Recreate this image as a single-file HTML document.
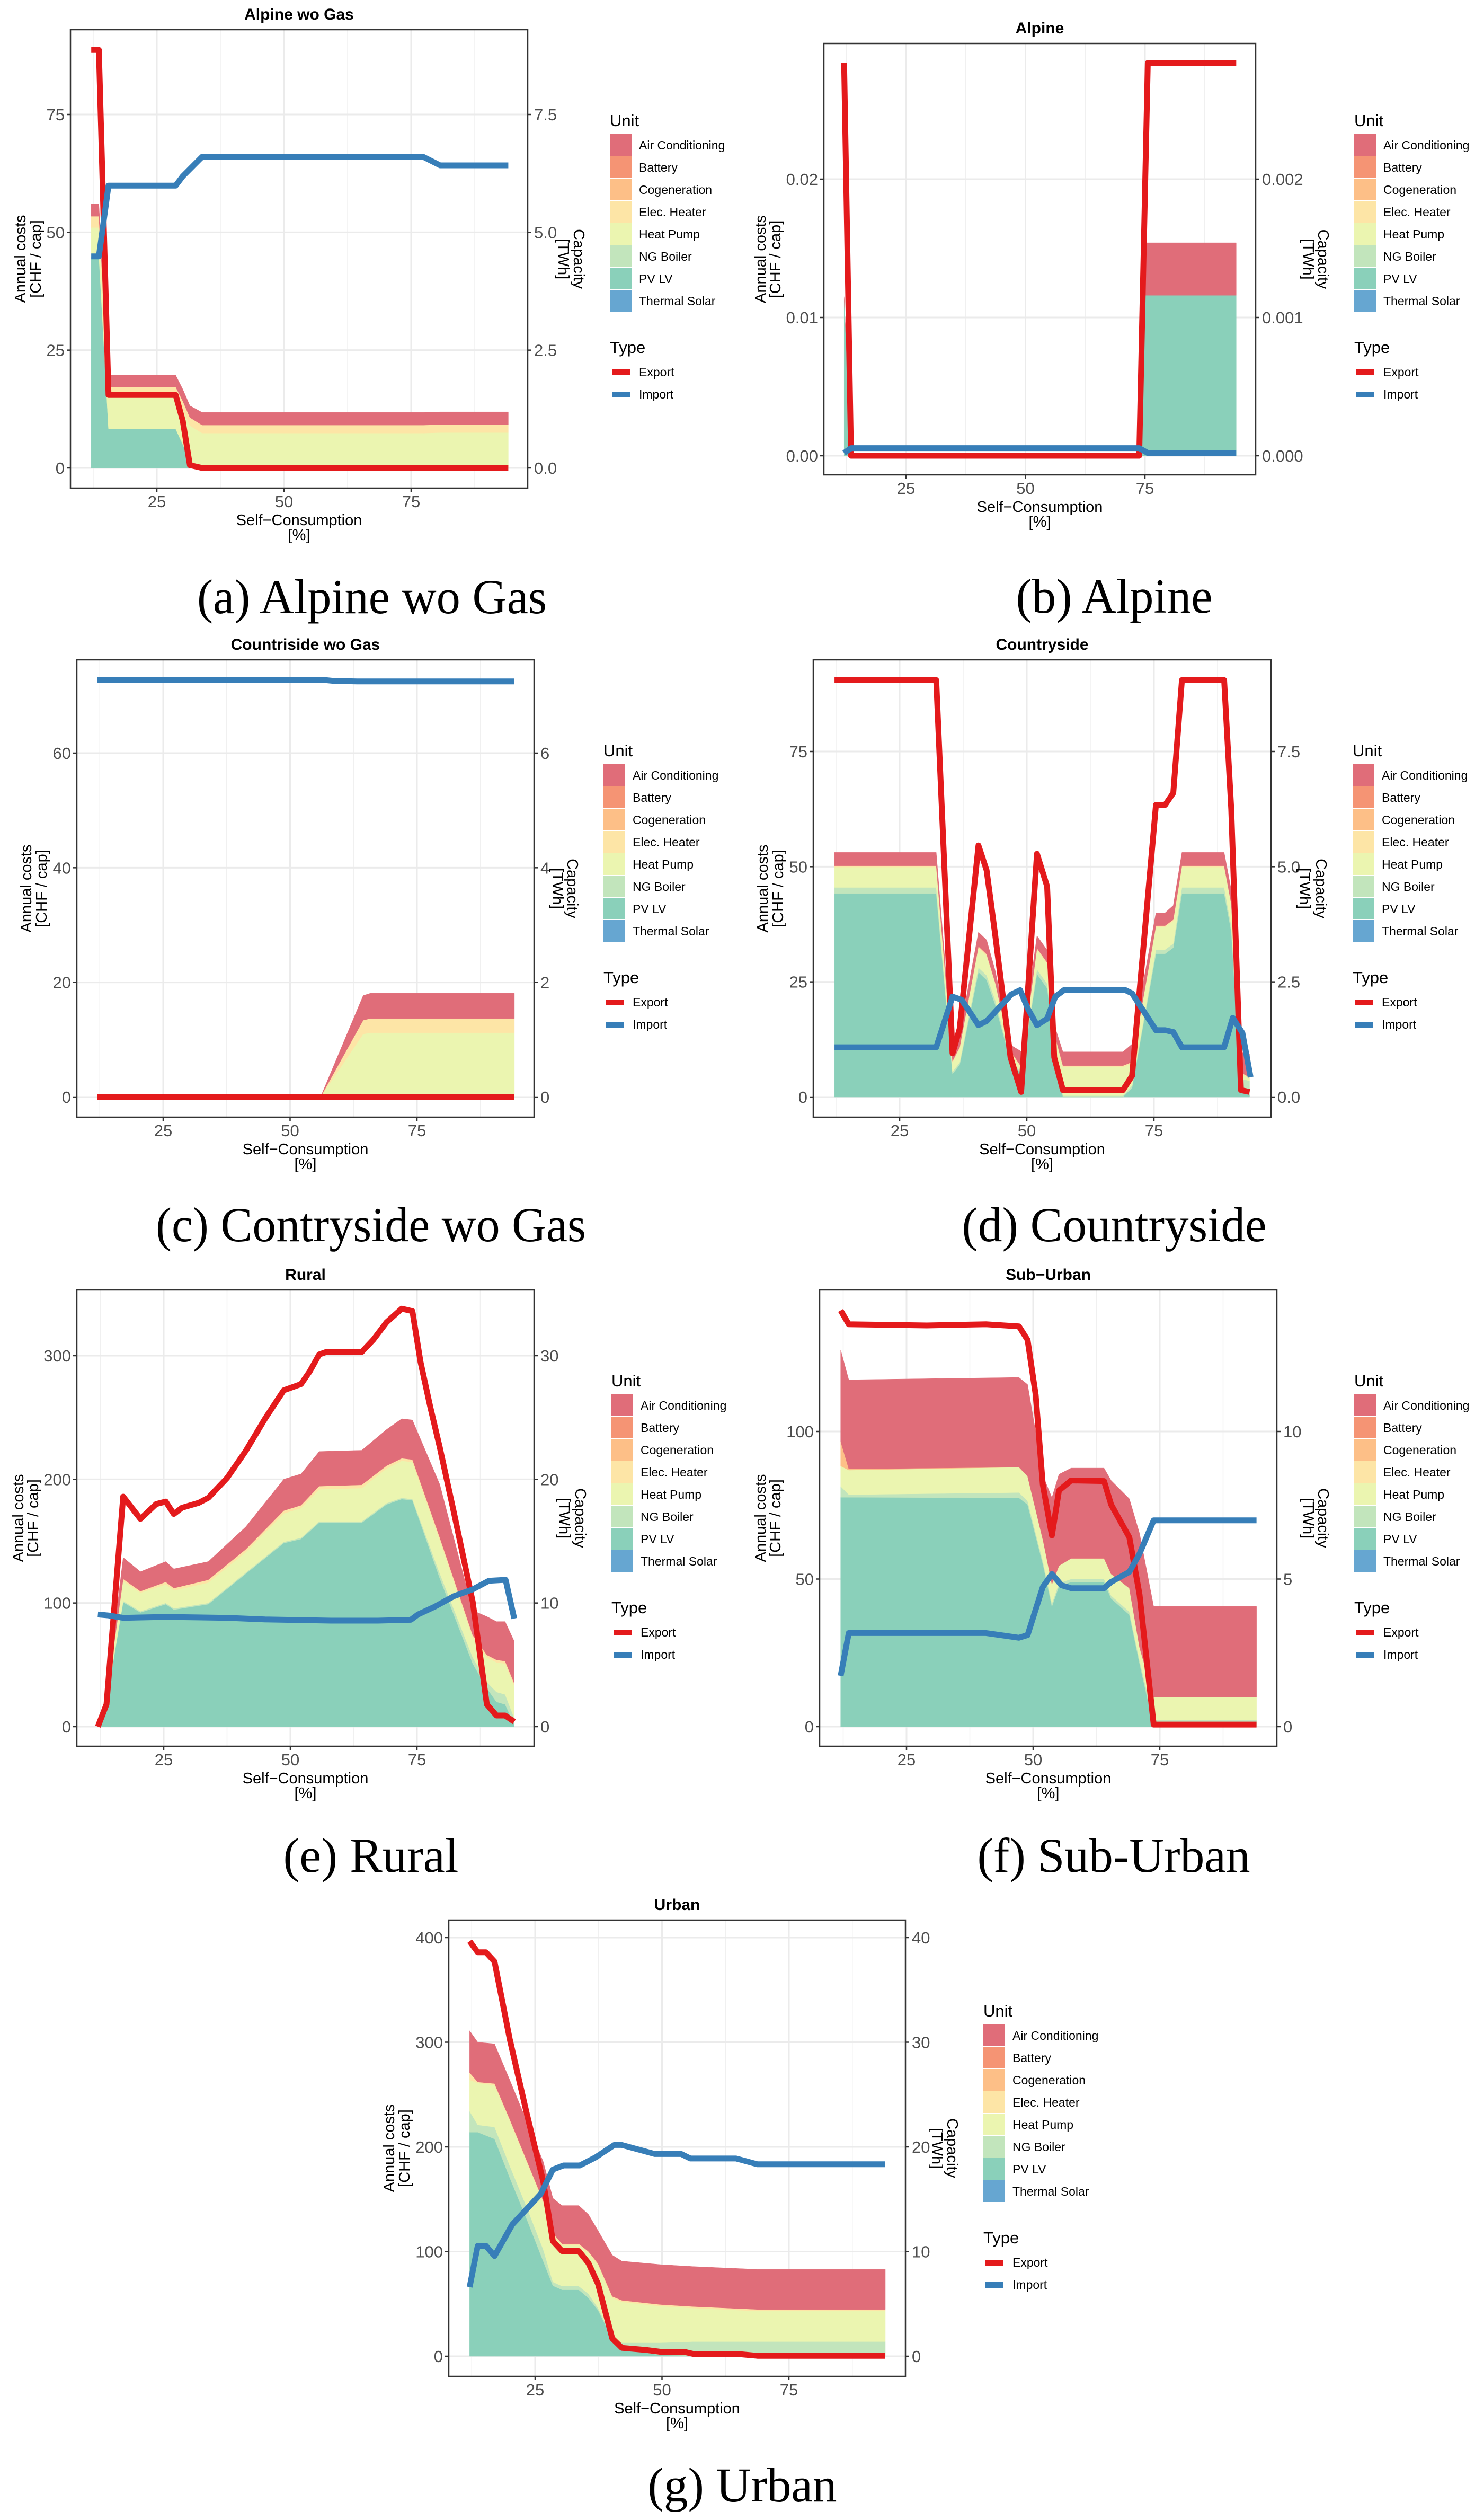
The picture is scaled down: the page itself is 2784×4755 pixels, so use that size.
<!DOCTYPE html>
<html><head><meta charset="utf-8">
<style>
html,body{margin:0;padding:0;background:#fff;}
svg{display:block;font-family:"Liberation Sans",sans-serif;}
</style></head>
<body>
<svg id="fig" xmlns="http://www.w3.org/2000/svg" width="2784" height="4755" viewBox="0 0 2784 4755"></svg>
<script>
// ---------- DATA ----------
// (a) Alpine wo Gas
const aX=[12.1,13.6,15.5,28.7,30.1,31.5,33.9,77.4,80.7,94.1];
const aPV=[44.9,44.9,8.3,8.3,5,1.5,0,0,0,0];
const aNG=[0.5,0.5,0,0,0,0,0,0,0,0];
const aHP=[5.6,5.6,7.2,7.2,7.5,7.5,7.4,7.4,7.5,7.5];
const aEH=[2.4,2.4,1.7,1.7,1.7,1.7,1.7,1.7,1.7,1.7];
const aAC=[2.6,2.6,2.5,2.5,2.5,2.5,2.7,2.7,2.7,2.7];
const aExpX=[12.1,13.6,15.5,28.7,30.1,31.5,33.9,94.1];
const aExp=[88.7,88.7,15.5,15.5,10,0.6,0,0];
const aImpX=[12.1,13.6,15.5,28.7,30.1,33.9,77.4,80.7,94.1];
const aImp=[4.49,4.49,5.99,5.99,6.19,6.6,6.6,6.42,6.42];
const aYTicks=[0,25,50,75];
const aYTickLabels=["0","25","50","75"];
const aRTickLabels=["0.0","2.5","5.0","7.5"];

// (b) Alpine
const bX=[12.05,13.5,73.8,75.0,94.1];
const bPV=[0.0115,0,0,0.0116,0.0116];
const bAC=[0,0,0,0.0038,0.0038];
const bExpX=[12.05,13.5,73.8,75.6,94.1];
const bExp=[0.0284,0,0,0.0284,0.0284];
const bImpX=[12.05,13.5,73.8,75.6,94.1];
const bImp=[0.00002,0.000055,0.000055,0.00002,0.00002];
const bYTicks=[0,0.01,0.02];
const bYTickLabels=["0.00","0.01","0.02"];
const bRTickLabels=["0.000","0.001","0.002"];

// (c) Countriside wo Gas
const cX=[12,56,64.4,65.8,94.2];
const cHP=[0,0,11,11.2,11.2];
const cEH=[0,0,2.4,2.5,2.5];
const cAC=[0,0,4.3,4.4,4.4];
const cExpX=[12,94.2];
const cExp=[0,0];
const cImpX=[12,56.2,58.5,63.2,94.2];
const cImp=[7.28,7.28,7.26,7.25,7.25];
const cYTicks=[0,20,40,60];
const cYTickLabels=["0","20","40","60"];
const cRTickLabels=["0","2","4","6"];

// (d) Countryside
const dX=[12.2,32.2,35.4,36.8,40.5,42.1,43.8,46.8,48.9,52,54,55.4,57.1,68.9,70.7,75.4,77.2,78.8,80.5,88.8,90.2,92.1,93.8];
const dPV=[44.2,44.2,5,7,27.1,25.4,20,7.7,5,26.7,23.6,12.1,0,0,2,31.1,31.1,32.4,44.2,44.2,36,1,0.5];
const dNG=[1.3,1.3,0.5,0.5,1,1,1,0.5,0.3,1,1,0.5,0.3,0.3,0.5,0.9,0.9,0.9,1.3,1.3,1.2,3,3];
const dHP=[4.4,4.4,2,3,4.3,4.3,3.5,1.5,1,4.3,4.3,1,6.2,6.2,4.8,4.9,4.9,4.9,4.4,4.4,4.5,1,0.5];
const dEH=[0.3,0.3,0.3,0.3,0.3,0.3,0.3,0.3,0.3,0.3,0.3,0.3,0.3,0.3,0.3,0.3,0.3,0.3,0.3,0.3,0.3,0.3,0.3];
const dAC=[2.9,2.9,1.5,3,3.1,3.1,2.6,1.3,3.3,2.7,2.7,1.8,3,3,3.9,2.8,2.8,3.1,2.9,2.9,3,4.5,5];
const dExpX=[12.2,32.2,35.4,36.8,40.5,42.1,43.8,46.8,48.9,52,54,55.4,57.1,68.9,70.7,75.4,77.2,78.8,80.5,88.8,90.2,92.1,93.8];
const dExp=[90.5,90.5,9.5,14.8,54.6,49.2,35.1,8.6,1.1,52.8,45.7,8.6,1.5,1.5,4.6,63.4,63.4,66,90.5,90.5,62.5,1.5,1.1];
const dImpX=[12.2,32.2,35.4,37.2,40.5,42.1,47,48.7,50.2,52,54,55.6,57.3,69.4,70.7,75.4,77.2,78.8,80.5,88.8,90.5,92.4,94];
const dImp=[1.08,1.08,2.18,2.11,1.56,1.65,2.23,2.32,1.92,1.56,1.7,2.18,2.32,2.32,2.25,1.45,1.45,1.41,1.08,1.08,1.72,1.39,0.43];
const dYTicks=[0,25,50,75];
const dYTickLabels=["0","25","50","75"];
const dRTickLabels=["0.0","2.5","5.0","7.5"];

// (e) Rural
const eX=[12,13.7,17,20.4,25.4,27,33.8,41.2,48.7,52.1,55.7,64.1,69,72,74.1,79.5,86,88.8,90.7,92.4,94.2];
const ePV=[0,20,100.6,92.3,99,94.6,99,123.6,148.4,151.7,164.9,164.9,179.7,184,183,120,51,31,20,18,2];
const eNG=[0,0,1,1,1,1,1,1,1,1,1,1,1,1,1,4,5,5,8,8,5];
const eHP=[0,3,16,15,15,14.5,16.5,16.5,23,24,26,27,28,30,30,27,16,20,24,25,26];
const eEH=[0,0,1.8,1.2,2,1.9,2.2,2.3,2.3,2.3,2.6,2.6,2.3,2,2,2,2,2,2,2,2];
const eAC=[0,2,17.4,15.8,16.5,15.6,14.8,18.2,25.4,25.4,28,28,29.3,32,32,43,20,31,31,32,34];
const eExpX=[12,13.7,17,20.4,23.5,25.4,27,28.6,31.9,33.8,37.5,41.2,45,48.7,52.1,53.8,55.7,57.1,64.1,66.4,69,72,74.1,75.7,77.6,79.5,82.3,86,88.8,90.7,92.4,94.2];
const eExp=[0,18,186,168,180,182,172,177,181,185,201,223,249,272,277,287,301,303,303,313,327,338,336,295,259,226,173,101,18,9,9,4];
const eImpX=[12,14.1,17,25.4,37.5,45,58,67.3,73.8,75.2,78.5,82.3,86,89.2,92.5,94.2];
const eImp=[9.07,8.99,8.8,8.87,8.8,8.67,8.57,8.57,8.64,9.07,9.7,10.55,11.1,11.8,11.87,8.74];
const eYTicks=[0,100,200,300];
const eYTickLabels=["0","100","200","300"];
const eRTickLabels=["0","10","20","30"];

// (f) Sub-Urban
const fX=[12,13.6,47.2,48.9,52,53.7,55.1,57.5,64,65.4,69,71,73.8,94.1];
const fPV=[77.7,77.7,77.5,75.2,54.5,40.7,47.6,49,49,43.4,37.9,21.4,0,0];
const fNG=[3.7,0.9,1.8,1.2,1,1,1,1,1,1,1,1,2.3,2.3];
const fHP=[6.9,8.3,8.6,8.4,7.3,6.6,5.9,7,7,7.3,8,4.5,7.7,7.7];
const fCOG=[8.3,0.4,0,0,0,0,0,0,0,0,0,0,0,0];
const fAC=[31,30.2,30.4,31.1,22,29.3,31,30.6,30.6,31.7,30.3,38.6,30.7,30.7];
const fExpX=[12,13.6,29,40.7,47.2,48.9,50.5,51.9,53.7,55.1,57.5,64,65.4,69,71,73.8,94.1];
const fExp=[141,136.3,135.9,136.3,135.6,131,112.4,82,64.8,80,83.4,83.2,75.2,64.1,44.8,0.7,0.7];
const fImpX=[12,13.6,40.7,47.2,48.9,51.9,53.7,55.6,57.5,64,65.4,69,71,73.8,94.1];
const fImp=[1.72,3.17,3.17,3.01,3.1,4.73,5.17,4.79,4.69,4.69,4.9,5.24,5.86,6.99,6.99];
const fYTicks=[0,50,100];
const fYTickLabels=["0","50","100"];
const fRTickLabels=["0","5","10"];

// (g) Urban
const gX=[12.1,13.7,17,20,23.3,26.6,28.5,30.3,33.6,35.5,37.4,40.2,42.1,49.6,56.1,68.8,94];
const gPV=[214,214,207.6,170.6,131.6,90.8,67.4,63.5,63.5,55.7,44,16.7,7,1.2,0.5,0.3,0.3];
const gNG=[20,7,11.4,11.4,11.4,11.2,3.6,3.5,3.5,3.9,2,2,5.9,11.7,13.5,13.7,13.7];
const gHP=[30,40,40,43,43,45,45,39,39,39,41,37,39,35,32,29.2,29.2];
const gEH=[7,1,1.5,1.5,1.5,1.5,1.5,1.5,1.5,1.5,1.5,1.5,1.5,1.5,1.5,1.5,1.5];
const gAC=[40,38,38,37.5,37.5,37.5,33.5,36.5,36.5,35.5,31.5,39.4,37.5,38.2,38.2,38.3,38.3];
const gExpX=[12.1,13.7,15.3,17,20,23.3,26.6,28.5,30.3,33.6,35.5,37.4,40.2,42.1,46.8,49.6,54.3,56.1,64.6,68.8,94];
const gExp=[396.5,386,386,377,303,233,167,110,100.5,100.5,89,69,17,8,6,4.3,4.3,2.3,2.3,0.4,0.4];
const gImpX=[12.1,13.7,15.3,17,20.5,26.1,28.5,30.6,33.8,36.9,40.6,42.1,48.6,53.8,55.6,64.6,68.8,94];
const gImp=[6.6,10.55,10.55,9.58,12.58,15.5,17.84,18.23,18.23,19,20.18,20.18,19.32,19.32,18.89,18.89,18.34,18.34];
const gYTicks=[0,100,200,300,400];
const gYTickLabels=["0","100","200","300","400"];
const gRTickLabels=["0","10","20","30","40"];

const legendUnits=["Air Conditioning","Battery","Cogeneration","Elec. Heater","Heat Pump","NG Boiler","PV LV","Thermal Solar"];
const legendTypes=["Export","Import"];

// ---------- RENDERING ----------
const NS="http://www.w3.org/2000/svg";
const svg=document.getElementById('fig');
const COL={ts:"#66a6d1",pv:"#8ad0ba",ng:"#c2e5bc",hp:"#ebf5b0",eh:"#fde5a6",cog:"#fdbf87",bat:"#f59474",ac:"#e06d79"};
const unitColors=[COL.ac,COL.bat,COL.cog,COL.eh,COL.hp,COL.ng,COL.pv,COL.ts];
const EXP="#e41a1c",IMP="#377eb8";
function mk(tag,attrs,parent){const e=document.createElementNS(NS,tag);for(const k in attrs)e.setAttribute(k,attrs[k]);(parent||svg).appendChild(e);return e;}
function lin(d0,d1,p0,p1){return v=>p0+(v-d0)*(p1-p0)/(d1-d0);}
function zeros(n){return new Array(n).fill(0);}

function drawPanel(P){
  const g=mk('g',{});
  
  
  const [fx0,fx1,fy0,fy1]=P.frame;
  const xs=lin(25,75,P.x25,P.x75);
  const ys=lin(P.yT[0],P.yT[P.yT.length-1],P.yp0,P.yp1);
  const step=P.yT[1]-P.yT[0];
  for(let v=P.yT[0]-step*1.5; v<=P.yT[P.yT.length-1]+step*1.5; v+=step){
    const yy=ys(v+step/2);
    if(yy>fy0&&yy<fy1){const l=mk('line',{x1:fx0,x2:fx1,y1:yy,y2:yy,stroke:'#f0f0f0','stroke-width':1.5},g);
      
      }
  }
  [12.5,37.5,62.5,87.5].forEach(v=>{const xx=xs(v);if(xx>fx0&&xx<fx1){const l=mk('line',{x1:xx,x2:xx,y1:fy0,y2:fy1,stroke:'#f0f0f0','stroke-width':1.5},g);
    
    }});
  P.yT.forEach(v=>{const yy=ys(v);const l=mk('line',{x1:fx0,x2:fx1,y1:yy,y2:yy,stroke:'#ebebeb','stroke-width':3},g);
    
    });
  [25,50,75].forEach(v=>{const xx=xs(v);const l=mk('line',{x1:xx,x2:xx,y1:fy0,y2:fy1,stroke:'#ebebeb','stroke-width':3},g);
    
    });
  const n=P.x.length;
  const layers=[['thermal-solar',P.ts||zeros(n),COL.ts],['pv-lv',P.pv||zeros(n),COL.pv],['ng-boiler',P.ng||zeros(n),COL.ng],['heat-pump',P.hp||zeros(n),COL.hp],['elec-heater',P.eh||zeros(n),COL.eh],['cogeneration',P.cog||zeros(n),COL.cog],['battery',P.bat||zeros(n),COL.bat],['air-conditioning',P.ac||zeros(n),COL.ac]];
  let base=zeros(n);
  layers.forEach(([nm,vals,c])=>{
    const top=base.map((b,i)=>b+vals[i]);
    if(vals.some(v=>v>0)){
      let pts=P.x.map((x,i)=>xs(x).toFixed(1)+','+ys(top[i]).toFixed(1));
      for(let i=n-1;i>=0;i--)pts.push(xs(P.x[i]).toFixed(1)+','+ys(base[i]).toFixed(1));
      const pg=mk('polygon',{points:pts.join(' '),fill:c,stroke:c,'stroke-width':0.5},g);
      
      
    }
    base=top;
  });
  const ep=P.expX.map((x,i)=>xs(x).toFixed(1)+','+ys(P.exp[i]).toFixed(1)).join(' ');
  const el=mk('polyline',{points:ep,fill:'none',stroke:EXP,'stroke-width':11,'stroke-linejoin':'round'},g);
  
  
  const ip=P.impX.map((x,i)=>xs(x).toFixed(1)+','+ys(P.imp[i]*10).toFixed(1)).join(' ');
  const il=mk('polyline',{points:ip,fill:'none',stroke:IMP,'stroke-width':11,'stroke-linejoin':'round'},g);
  
  
  const fr=mk('rect',{x:fx0,y:fy0,width:fx1-fx0,height:fy1-fy0,fill:'none',stroke:'#333','stroke-width':2.5},g);
  
  
  P.yT.forEach((v,i)=>{
    const yy=ys(v);
    mk('line',{x1:fx0-7,x2:fx0,y1:yy,y2:yy,stroke:'#333','stroke-width':2.5},g);
    mk('line',{x1:fx1,x2:fx1+7,y1:yy,y2:yy,stroke:'#333','stroke-width':2.5},g);
    const t=mk('text',{x:fx0-11,y:yy+11,'text-anchor':'end','font-size':31,fill:'#4d4d4d'},g);
    t.textContent=P.yL[i];
    
    
    const r=mk('text',{x:fx1+12,y:yy+11,'text-anchor':'start','font-size':31,fill:'#4d4d4d'},g);
    r.textContent=P.rL[i];
    
    
  });
  [25,50,75].forEach(v=>{
    const xx=xs(v);
    mk('line',{x1:xx,x2:xx,y1:fy1,y2:fy1+7,stroke:'#333','stroke-width':2.5},g);
    const t=mk('text',{x:xx,y:fy1+36,'text-anchor':'middle','font-size':31,fill:'#4d4d4d'},g);
    t.textContent=String(v);
    
    
  });
  const cx=(fx0+fx1)/2, cy=(fy0+fy1)/2;
  const tt=mk('text',{x:cx,y:fy0-19,'text-anchor':'middle','font-size':30,'font-weight':'bold',fill:'#000'},g);
  tt.textContent=P.title;
  
  
  const xt1=mk('text',{x:cx,y:fy1+70,'text-anchor':'middle','font-size':29,fill:'#000'},g);
  xt1.textContent='Self\u2212Consumption';
  
  
  const xt2=mk('text',{x:cx,y:fy1+98,'text-anchor':'middle','font-size':29,fill:'#000'},g);
  xt2.textContent='[%]';
  
  
  const yl1=mk('text',{x:0,y:0,'text-anchor':'middle','font-size':29,fill:'#000',transform:`translate(${fx0+P.yl[0]+10},${cy}) rotate(-90)`},g);
  yl1.textContent='Annual costs';
  
  
  const yl2=mk('text',{x:0,y:0,'text-anchor':'middle','font-size':29,fill:'#000',transform:`translate(${fx0+P.yl[1]+10},${cy}) rotate(-90)`},g);
  yl2.textContent='[CHF / cap]';
  
  
  const yr1=mk('text',{x:0,y:0,'text-anchor':'middle','font-size':29,fill:'#000',transform:`translate(${fx1+P.yr[1]-10},${cy}) rotate(90)`},g);
  yr1.textContent='Capacity';
  
  
  const yr2=mk('text',{x:0,y:0,'text-anchor':'middle','font-size':29,fill:'#000',transform:`translate(${fx1+P.yr[0]-10},${cy}) rotate(90)`},g);
  yr2.textContent='[TWh]';
  
  
  const lx=P.legX, ly=(P.legY!==undefined?P.legY:fy0);
  const ut=mk('text',{x:lx,y:ly+182,'font-size':31,fill:'#000'},g);
  ut.textContent='Unit';
  
  
  legendUnits.forEach((u,i)=>{
    const ky=ly+197+i*42;
    const r=mk('rect',{x:lx,y:ky,width:41,height:41,fill:unitColors[i]},g);
    
    
    const t=mk('text',{x:lx+55,y:ky+29,'font-size':23,fill:'#000'},g);
    t.textContent=u;
    
    
  });
  const tyt=mk('text',{x:lx,y:ly+610,'font-size':31,fill:'#000'},g);
  tyt.textContent='Type';
  
  
  legendTypes.forEach((u,i)=>{
    const ky=ly+646+i*42;
    const r=mk('rect',{x:lx+4,y:ky-5,width:34,height:11,fill:i==0?EXP:IMP},g);
    
    
    const t=mk('text',{x:lx+55,y:ky+8,'font-size':23,fill:'#000'},g);
    t.textContent=u;
    
    
  });
  const cap=mk('text',{x:P.cap[0],y:P.cap[1],'text-anchor':'middle','font-size':92,'font-family':'"Liberation Serif",serif',fill:'#000',textLength:P.cap[2],lengthAdjust:'spacingAndGlyphs'});
  cap.textContent=P.caption;
  
  
}

drawPanel({id:'alpine-wo-gas',title:'Alpine wo Gas',caption:'(a) Alpine wo Gas',frame:[133,996,56,921],x25:296,x75:776,yp0:883,yp1:216,
  yT:aYTicks,yL:aYTickLabels,rL:aRTickLabels,x:aX,pv:aPV,ng:aNG,hp:aHP,eh:aEH,ac:aAC,expX:aExpX,exp:aExp,impX:aImpX,imp:aImp,
  yl:[-95,-66],yr:[68,97],legX:1151,cap:[702,1157,660]});
drawPanel({id:'alpine',title:'Alpine',caption:'(b) Alpine',frame:[1555,2370,82,896],x25:1710,x75:2161,yp0:860,yp1:338,
  yT:bYTicks,yL:bYTickLabels,rL:bRTickLabels,x:bX,pv:bPV,ac:bAC,expX:bExpX,exp:bExp,impX:bImpX,imp:bImp,
  yl:[-120,-92],yr:[100,128],legX:2556,legY:56,cap:[2103,1156,371]});
drawPanel({id:'countriside-wo-gas',title:'Countriside wo Gas',caption:'(c) Contryside wo Gas',frame:[145,1008,1245,2108],x25:308,x75:787,yp0:2070,yp1:1421,
  yT:cYTicks,yL:cYTickLabels,rL:cRTickLabels,x:cX,hp:cHP,eh:cEH,ac:cAC,expX:cExpX,exp:cExp,impX:cImpX,imp:cImp,
  yl:[-96,-67],yr:[45,73],legX:1139,cap:[700,2342,812]});
drawPanel({id:'countryside',title:'Countryside',caption:'(d) Countryside',frame:[1535,2399,1245,2108],x25:1698,x75:2178,yp0:2070,yp1:1418,
  yT:dYTicks,yL:dYTickLabels,rL:dRTickLabels,x:dX,pv:dPV,ng:dNG,hp:dHP,eh:dEH,ac:dAC,expX:dExpX,exp:dExp,impX:dImpX,imp:dImp,
  yl:[-96,-67],yr:[64,95],legX:2553,cap:[2103,2342,575]});
drawPanel({id:'rural',title:'Rural',caption:'(e) Rural',frame:[145,1008,2434,3295],x25:309,x75:787,yp0:3258,yp1:2558,
  yT:eYTicks,yL:eYTickLabels,rL:eRTickLabels,x:eX,pv:ePV,ng:eNG,hp:eHP,eh:eEH,ac:eAC,expX:eExpX,exp:eExp,impX:eImpX,imp:eImp,
  yl:[-111,-83],yr:[58,88],legX:1154,cap:[700,3532,331]});
drawPanel({id:'sub-urban',title:'Sub\u2212Urban',caption:'(f) Sub-Urban',frame:[1547,2410,2434,3295],x25:1711,x75:2189,yp0:3258,yp1:2701,
  yT:fYTicks,yL:fYTickLabels,rL:fRTickLabels,x:fX,pv:fPV,ng:fNG,hp:fHP,cog:fCOG,ac:fAC,expX:fExpX,exp:fExp,impX:fImpX,imp:fImp,
  yl:[-112,-84],yr:[60,88],legX:2556,cap:[2102,3532,515]});
drawPanel({id:'urban',title:'Urban',caption:'(g) Urban',frame:[847,1709,3623,4484],x25:1010,x75:1489,yp0:4446,yp1:3656,
  yT:gYTicks,yL:gYTickLabels,rL:gRTickLabels,x:gX,pv:gPV,ng:gNG,hp:gHP,eh:gEH,ac:gAC,expX:gExpX,exp:gExp,impX:gImpX,imp:gImp,
  yl:[-113,-84],yr:[60,89],legX:1856,cap:[1401,4720,357]});
</script>
</body></html>
